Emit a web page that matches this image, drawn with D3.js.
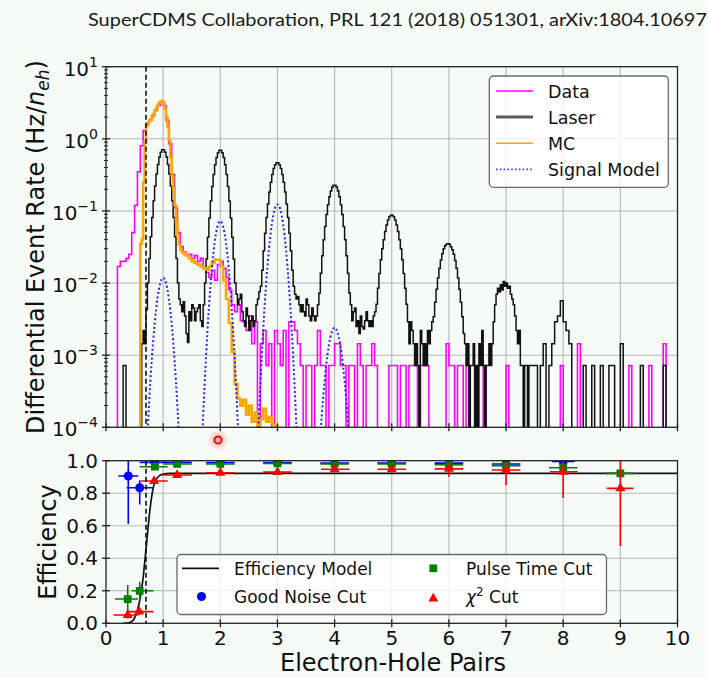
<!DOCTYPE html>
<html>
<head>
<meta charset="utf-8">
<script src="https://cdn.jsdelivr.net/npm/d3@7"></script>
<style>
  body { margin: 0; background: #f6fbf8; }
  svg { display: block; }
  text { font-family: "DejaVu Sans", sans-serif; fill: #111; }
</style>
</head>
<body>
<svg id="chart" width="708" height="678"></svg>
<script>
// ---------- data ----------
// Each histogram is a list of runs of equal-width bins: first edge, bin width, rates (Hz / n_eh).

// Laser calibration spectrum
const laserLow = [0,0,0,0,0,0,7.2e-4,0,0,0,0,0];            // 0.00 - 0.60, 0.05 bins
const laserPeaks = [                                          // 0.60 - 7.40, 0.025 bins
  0,1.44e-3,2.2e-3,1.44e-3,
  0.0043,0.0101,0.0219,0.0437,0.081,0.139,0.221,0.325,0.442,0.558,0.651,0.703,
  0.703,0.651,0.558,0.442,0.325,0.221,0.139,0.081,0.0437,0.0219,0.0101,6e-3,
  5e-3,4e-3,5.5e-3,3.5e-3,2e-3,1.5e-3,4e-3,3e-3,5e-3,4.5e-3,3e-3,4e-3,4.5e-3,5e-3,3e-3,2.5e-3,
  5e-3,0.01,0.0215,0.043,0.08,0.137,0.218,0.32,0.436,0.55,0.642,0.693,
  0.693,0.642,0.55,0.436,0.32,0.218,0.137,0.08,0.043,0.0215,0.01,7e-3,
  5e-3,6e-3,7e-3,4e-3,3e-3,2.5e-3,4.5e-3,3.5e-3,2.2e-3,3e-3,3.5e-3,2.5e-3,3e-3,5e-3,6e-3,7.6e-3,
  9e-3,0.015,0.028,0.049,0.081,0.125,0.183,0.25,0.32,0.387,0.438,0.466,
  0.466,0.438,0.387,0.32,0.25,0.183,0.125,0.081,0.049,0.028,0.015,9e-3,
  7e-3,6e-3,6.5e-3,5e-3,4e-3,5e-3,4e-3,3.5e-3,6e-3,5e-3,3.5e-3,3e-3,4.5e-3,3.5e-3,3e-3,3.5e-3,
  5e-3,7.3e-3,0.0137,0.024,0.04,0.061,0.089,0.122,0.157,0.189,0.214,0.228,
  0.228,0.214,0.189,0.157,0.122,0.089,0.061,0.04,0.024,0.0137,7.3e-3,5e-3,
  3e-3,4e-3,4.5e-3,2.5e-3,3e-3,2e-3,3.5e-3,2.5e-3,2.3e-3,3e-3,4e-3,3e-3,2.5e-3,3e-3,2.5e-3,3.5e-3,
  4e-3,5.1e-3,8.5e-3,0.0136,0.021,0.03,0.04,0.052,0.064,0.075,0.083,0.0874,
  0.0874,0.083,0.075,0.064,0.052,0.04,0.03,0.021,0.0136,8.5e-3,5.1e-3,2.9e-3,
  1.44e-3,2.9e-3,2.2e-3,1.44e-3,7.2e-4,1.44e-3,7.2e-4,0,2.2e-3,1.44e-3,7.2e-4,1.44e-3,7.2e-4,2.2e-3,1.44e-3,2.2e-3,
  2.9e-3,3.4e-3,5.4e-3,8.2e-3,0.0118,0.016,0.0208,0.0255,0.0298,0.033,0.0348,0.035,
  0.0345,0.032,0.029,0.025,0.0205,0.016,0.0118,8.2e-3,5.4e-3,3.4e-3,2e-3,1.44e-3,
  7.2e-4,1.44e-3,0,7.2e-4,7.2e-4,1.44e-3,0,7.2e-4,0,1.44e-3,7.2e-4,2.2e-3,7.2e-4,0,7.2e-4,7.2e-4,1.44e-3,7.2e-4,
  1.44e-3,2.9e-3,5e-3,7e-3,8.5e-3,7.5e-3,9.5e-3,8e-3,0.0105,9e-3,0.01,8.5e-3,9e-3,
  7e-3,6e-3,5e-3,3.5e-3,2.2e-3,1.44e-3,2.2e-3,7.2e-4,7.2e-4,0,7.2e-4,7.2e-4,0
];
const laserHigh = [                                           // 7.40 - 10.0, 0.05 bins
  7.2e-4,7.2e-4,7.2e-4,0,7.2e-4,1.44e-3,0,7.2e-4,1.44e-3,2.9e-3,
  3.5e-3,5.7e-3,2.9e-3,2.2e-3,1.44e-3,0,0,0,0,7.2e-4,
  0,0,7.2e-4,0,0,7.2e-4,0,0,7.2e-4,7.2e-4,
  0,0,1.44e-3,0,0,0,0,0,0,7.2e-4,
  0,0,0,0,0,0,0,7.2e-4,0,0,
  0,0
];

// Measured event rate, 0.05 bins from 0
const dataRate = [
  0,0,0,0,0.017,0.02,0.02,0.022,0.025,0.05,
  0.12,0.35,0.8,1.3,1.6,1.8,2.1,2.5,2.9,3.3,
  2.9,1.8,0.85,0.32,0.11,0.05,0.032,0.027,0.024,0.025,
  0.022,0.024,0.02,0.022,0.016,0.014,0.012,0.015,0.011,0.018,
  0.02,0.016,0.012,8e-3,5e-3,4e-3,5e-3,3e-3,2.9e-3,2.2e-3,
  3.5e-3,1.44e-3,2.9e-3,0,1.44e-3,2.2e-3,7.2e-4,1.44e-3,0,2.2e-3,
  1.44e-3,7.2e-4,2.2e-3,0,2.9e-3,2.9e-3,2.2e-3,1.44e-3,7.2e-4,0,
  7.2e-4,7.2e-4,0,7.2e-4,2.2e-3,7.2e-4,7.2e-4,0,7.2e-4,7.2e-4,
  1.44e-3,1.44e-3,7.2e-4,7.2e-4,0,7.2e-4,7.2e-4,0,1.44e-3,7.2e-4,
  0,7.2e-4,7.2e-4,1.44e-3,7.2e-4,0,0,0,0,7.2e-4,
  7.2e-4,7.2e-4,0,7.2e-4,7.2e-4,0,7.2e-4,7.2e-4,7.2e-4,0,
  7.2e-4,7.2e-4,7.2e-4,0,0,0,0,0,0,1.44e-3,
  7.2e-4,7.2e-4,0,7.2e-4,7.2e-4,0,7.2e-4,0,0,0,
  0,0,7.2e-4,0,0,0,0,0,0,0,
  7.2e-4,0,0,0,0,0,0,0,0,0,
  0,0,0,0,0,0,0,0,0,7.2e-4,
  0,0,0,0,0,1.44e-3,0,0,0,0,
  0,0,0,0,0,0,0,0,0,0,
  0,0,0,7.2e-4,0,0,0,0,0,0,
  7.2e-4,0,0,0,0,1.44e-3,0,0,0,0
];

// Monte Carlo prediction
const mcPeak = [                                              // 0.575 - 1.40, 0.025 bins
  0,0.035,0.04,0.25,0.9,1.5,1.65,1.75,1.85,2.0,2.2,2.45,2.7,2.95,3.15,3.3,3.35,
  3.1,2.6,2.0,1.45,0.95,0.55,0.3,0.2,0.12,0.07,0.045,0.034,0.029,0.027,0.026,0.025
];
const mcTail = [                                              // 1.40 - 3.05, 0.05 bins
  0.024,0.022,0.02,0.019,0.018,0.017,0.016,0.0155,0.017,0.019,
  0.021,0.021,0.017,0.011,0.006,0.0028,1.1e-3,4e-4,2.5e-4,2e-4,
  2.4e-4,1.5e-4,2e-4,1.2e-4,1.6e-4,0,1.3e-4,1.8e-4,1.2e-4,1.4e-4,
  1.1e-4,1.05e-4,0
];

// Signal model curve
const signalX = [
  0.5,
  0.65,0.7,0.75,0.8,0.85,0.9,0.95,1.0,1.05,1.1,1.15,1.2,1.25,1.3,1.35,
  1.5,
  1.65,1.7,1.75,1.8,1.85,1.9,1.95,2.0,2.05,2.1,2.15,2.2,2.25,2.3,2.35,
  2.5,
  2.65,2.7,2.75,2.8,2.85,2.9,2.95,3.0,3.05,3.1,3.15,3.2,3.25,3.3,3.35,
  3.5,
  3.7,3.75,3.8,3.85,3.9,3.95,4.0,4.05,4.1,4.15,4.2,4.25,4.3,
  4.5
];
const signalY = [
  1e-8,
  3.6e-6,3.1e-5,1.9e-4,8.4e-4,2.67e-3,6.1e-3,0.01,0.0118,0.01,6.1e-3,2.67e-3,8.4e-4,1.9e-4,3.1e-5,3.6e-6,
  1e-8,
  1.5e-5,1.42e-4,9.5e-4,4.5e-3,0.0152,0.036,0.0606,0.072,0.0606,0.036,0.0152,4.5e-3,9.5e-4,1.42e-4,1.5e-5,
  1e-8,
  4.6e-5,3.7e-4,2.2e-3,9.3e-3,0.0288,0.0645,0.105,0.123,0.105,0.0645,0.0288,9.3e-3,2.2e-3,3.7e-4,4.6e-5,
  1e-8,
  1.6e-5,7.5e-5,2.6e-4,6.9e-4,1.38e-3,2.09e-3,2.4e-3,2.09e-3,1.38e-3,6.9e-4,2.6e-4,7.5e-5,1.6e-5,
  1e-8
];

// Analysis threshold (electron-hole pairs)
const threshold = 0.7;

// Efficiency model
const effModelX = [0.3,0.33,0.4,0.48,0.52,0.565,0.6,0.62,0.65,0.67,0.71,0.755,0.8,0.855,0.9,0.94,1.0,1.12,1.5,3,10];
const effModelY = [0,0,0.003,0.02,0.05,0.1,0.16,0.205,0.28,0.35,0.49,0.655,0.78,0.87,0.895,0.91,0.917,0.922,0.922,0.922,0.922];

// Cut efficiencies: centre, bin range, value, uncertainty range
const noiseCut = [
  {x:0.39, x0:0.215, x1:0.565, y:0.906, y0:0.61, y1:1.0},
  {x:0.59, x0:0.36, x1:0.83, y:0.834, y0:0.73, y1:0.88},
  {x:0.855, x0:0.59, x1:1.08, y:0.99, y0:0.98, y1:1.0},
  {x:1.245, x0:1.0, x1:1.5, y:0.99, y0:0.98, y1:1.0},
  {x:2, x0:1.75, x1:2.25, y:0.988, y0:0.98, y1:0.995},
  {x:3, x0:2.75, x1:3.25, y:0.988, y0:0.98, y1:0.995},
  {x:4, x0:3.75, x1:4.25, y:0.985, y0:0.975, y1:0.995},
  {x:5, x0:4.75, x1:5.25, y:0.985, y0:0.975, y1:0.995},
  {x:6, x0:5.75, x1:6.25, y:0.985, y0:0.97, y1:0.995},
  {x:7, x0:6.75, x1:7.25, y:0.98, y0:0.965, y1:0.995},
  {x:8, x0:7.8, x1:8.2, y:0.995, y0:0.985, y1:1.0}
];
const pulseTimeCut = [
  {x:0.38, x0:0.16, x1:0.56, y:0.149, y0:0.06, y1:0.235},
  {x:0.59, x0:0.45, x1:0.83, y:0.2, y0:0.143, y1:0.256},
  {x:0.855, x0:0.59, x1:1.08, y:0.963, y0:0.95, y1:0.975},
  {x:1.245, x0:1.0, x1:1.5, y:0.98, y0:0.97, y1:0.99},
  {x:2, x0:1.75, x1:2.25, y:0.98, y0:0.972, y1:0.988},
  {x:3, x0:2.75, x1:3.25, y:0.983, y0:0.975, y1:0.99},
  {x:4, x0:3.75, x1:4.25, y:0.98, y0:0.97, y1:0.99},
  {x:5, x0:4.75, x1:5.25, y:0.98, y0:0.97, y1:0.99},
  {x:6, x0:5.75, x1:6.25, y:0.975, y0:0.96, y1:0.99},
  {x:7, x0:6.75, x1:7.25, y:0.97, y0:0.95, y1:0.99},
  {x:8, x0:7.75, x1:8.25, y:0.957, y0:0.93, y1:0.98},
  {x:9, x0:8.75, x1:9.25, y:0.922, y0:0.9, y1:0.94}
];
const chi2Cut = [
  {x:0.38, x0:0.13, x1:0.56, y:0.051, y0:0.03, y1:0.075},
  {x:0.58, x0:0.36, x1:0.83, y:0.072, y0:0.05, y1:0.1},
  {x:0.84, x0:0.61, x1:1.08, y:0.875, y0:0.86, y1:0.89},
  {x:1.245, x0:1.0, x1:1.5, y:0.912, y0:0.9, y1:0.925},
  {x:2, x0:1.75, x1:2.25, y:0.926, y0:0.915, y1:0.937},
  {x:3, x0:2.75, x1:3.25, y:0.93, y0:0.92, y1:0.94},
  {x:4, x0:3.76, x1:4.26, y:0.947, y0:0.935, y1:0.96},
  {x:5, x0:4.75, x1:5.25, y:0.947, y0:0.935, y1:0.96},
  {x:6, x0:5.75, x1:6.25, y:0.95, y0:0.902, y1:0.984},
  {x:7, x0:6.75, x1:7.25, y:0.943, y0:0.85, y1:0.994},
  {x:8, x0:7.77, x1:8.25, y:0.932, y0:0.77, y1:0.994},
  {x:9, x0:8.76, x1:9.23, y:0.83, y0:0.475, y1:1.0}
];

// Axis ticks
const xTicks = [0,1,2,3,4,5,6,7,8,9,10];
const rateTicks = [1e-4,1e-3,1e-2,1e-1,1,10];
const rateExponents = ["\u22124","\u22123","\u22122","\u22121","0","1"];
const effTicks = [0,0.2,0.4,0.6,0.8,1.0];

// ---------- layout ----------
const svg = d3.select("#chart");
const left = 106, right = 677.5;
const topY0 = 66.7, topY1 = 427.3;
const botY0 = 460.7, botY1 = 623.3;
const floorRate = 1e-6;

const x = d3.scaleLinear().domain([0, 10]).range([left, right]);
const yRate = d3.scaleLog().domain([1e-4, 10]).range([topY1, topY0]);
const yEff = d3.scaleLinear().domain([0, 1]).range([botY1, botY0]);

const defs = svg.append("defs");
defs.append("clipPath").attr("id", "clipTop").append("rect")
  .attr("x", left).attr("y", topY0).attr("width", right - left).attr("height", topY1 - topY0);
defs.append("clipPath").attr("id", "clipBot").append("rect")
  .attr("x", left).attr("y", botY0).attr("width", right - left).attr("height", botY1 - botY0);
const glow = defs.append("radialGradient").attr("id", "glow");
glow.append("stop").attr("offset", "0%").attr("stop-color", "#ff6060").attr("stop-opacity", 0.55);
glow.append("stop").attr("offset", "100%").attr("stop-color", "#ff6060").attr("stop-opacity", 0);

svg.append("rect").attr("width", 708).attr("height", 678).attr("fill", "#f6fbf8");

// title
svg.append("text").attr("x", 88).attr("y", 26)
  .attr("textLength", 619).attr("lengthAdjust", "spacingAndGlyphs")
  .style("font-family", "Lato, 'Open Sans', sans-serif").style("font-size", "18px").style("fill", "#1a1a1a")
  .text("SuperCDMS Collaboration, PRL 121 (2018) 051301, arXiv:1804.10697");

const gridColor = "#b6b6b6";

// ---------- top panel ----------
const gTop = svg.append("g");
gTop.append("g").selectAll("line").data(xTicks.slice(1, -1)).join("line")
  .attr("x1", d => x(d)).attr("x2", d => x(d)).attr("y1", topY0).attr("y2", topY1)
  .attr("stroke", gridColor).attr("stroke-width", 1.1);
gTop.append("g").selectAll("line").data(rateTicks.slice(1, -1)).join("line")
  .attr("x1", left).attr("x2", right).attr("y1", d => yRate(d)).attr("y2", d => yRate(d))
  .attr("stroke", gridColor).attr("stroke-width", 1.1);

const plotTop = gTop.append("g").attr("clip-path", "url(#clipTop)");

// Build step outline from runs [{start, width, values}]
function stepPoints(runs) {
  const pts = [];
  runs.forEach(r => r.values.forEach((v, i) => pts.push([r.start + i * r.width, v > 0 ? v : floorRate])));
  const last = runs[runs.length - 1];
  pts.push([last.start + last.values.length * last.width, pts[pts.length - 1][1]]);
  return pts;
}
const stepLine = d3.line().x(d => x(d[0])).y(d => yRate(d[1])).curve(d3.curveStepAfter);

plotTop.append("path").attr("d", stepLine(stepPoints([{start: 0, width: 0.05, values: dataRate}])))
  .attr("fill", "none").attr("stroke", "#ff00ff").attr("stroke-width", 1.6);
plotTop.append("path").attr("d", stepLine(stepPoints([
    {start: 0, width: 0.05, values: laserLow},
    {start: 0.6, width: 0.025, values: laserPeaks},
    {start: 7.4, width: 0.05, values: laserHigh}])))
  .attr("fill", "none").attr("stroke", "#111").attr("stroke-width", 1.5);
plotTop.append("path").attr("d", stepLine(stepPoints([
    {start: 0.575, width: 0.025, values: mcPeak},
    {start: 1.4, width: 0.05, values: mcTail}])))
  .attr("fill", "none").attr("stroke", "#ffa500").attr("stroke-width", 2.6);

const signalLine = d3.line().x(d => x(d[0])).y(d => yRate(d[1])).curve(d3.curveMonotoneX);
plotTop.append("path").attr("d", signalLine(signalX.map((v, i) => [v, signalY[i]])))
  .attr("fill", "none").attr("stroke", "#2626ee").attr("stroke-width", 2)
  .attr("stroke-dasharray", "2,2.4");

gTop.append("line").attr("x1", x(threshold)).attr("x2", x(threshold))
  .attr("y1", topY0).attr("y2", topY1)
  .attr("stroke", "#111").attr("stroke-width", 1.6).attr("stroke-dasharray", "5,3");

// frame
gTop.append("rect").attr("x", left).attr("y", topY0).attr("width", right - left).attr("height", topY1 - topY0)
  .attr("fill", "none").attr("stroke", "#222").attr("stroke-width", 1.3);

// ticks
const minorRate = [];
for (let e = -4; e < 1; e++) for (let m = 2; m <= 9; m++) minorRate.push(m * Math.pow(10, e));
gTop.append("g").selectAll("line").data(minorRate).join("line")
  .attr("x1", left - 2).attr("x2", left + 2).attr("y1", d => yRate(d)).attr("y2", d => yRate(d))
  .attr("stroke", "#222").attr("stroke-width", 1);
gTop.append("g").selectAll("line").data(rateTicks).join("line")
  .attr("x1", left - 4).attr("x2", left + 4).attr("y1", d => yRate(d)).attr("y2", d => yRate(d))
  .attr("stroke", "#222").attr("stroke-width", 1.3);
gTop.append("g").selectAll("line").data(xTicks).join("line")
  .attr("x1", d => x(d)).attr("x2", d => x(d)).attr("y1", topY1 - 4).attr("y2", topY1 + 4)
  .attr("stroke", "#222").attr("stroke-width", 1.3);

const rateLabels = gTop.append("g").selectAll("text").data(rateTicks).join("text")
  .attr("x", 98).attr("y", d => yRate(d) + 9).attr("text-anchor", "end")
  .style("font-size", "20px");
rateLabels.append("tspan").text("10");
rateLabels.append("tspan").attr("dy", -9).style("font-size", "14px").text((d, i) => rateExponents[i]);

// y label
const yl = svg.append("text")
  .attr("transform", `translate(44,${(topY0 + topY1) / 2}) rotate(-90)`)
  .attr("text-anchor", "middle").style("font-size", "24px");
yl.append("tspan").text("Differential Event Rate (Hz/");
yl.append("tspan").style("font-style", "italic").text("n");
yl.append("tspan").attr("dy", 5).style("font-size", "17px").style("font-style", "italic").text("eh");
yl.append("tspan").attr("dy", -5).text(")");

// legend (top)
const legendTop = [
  {label: "Data", color: "#ff00ff", width: 1.6, dash: null},
  {label: "Laser", color: "#5c5c5c", width: 3, dash: null},
  {label: "MC", color: "#ffa500", width: 1.6, dash: null},
  {label: "Signal Model", color: "#3a3aff", width: 1.8, dash: "1.6,2.2"}
];
const lgT = svg.append("g");
lgT.append("rect").attr("x", 489.3).attr("y", 76).attr("width", 179).attr("height", 111.3).attr("rx", 4)
  .attr("fill", "#ffffff").attr("fill-opacity", 0.82).attr("stroke", "#6a6a6a").attr("stroke-width", 1.3);
const lgTRows = lgT.selectAll("g").data(legendTop).join("g")
  .attr("transform", (d, i) => `translate(0,${91 + i * 26.1})`);
lgTRows.append("line").attr("x1", 496).attr("x2", 533).attr("y1", 0).attr("y2", 0)
  .attr("stroke", d => d.color).attr("stroke-width", d => d.width)
  .attr("stroke-dasharray", d => d.dash);
lgTRows.append("text").attr("x", 548).attr("y", 6.5).style("font-size", "17.5px").text(d => d.label);

// ---------- bottom panel ----------
const gBot = svg.append("g");
gBot.append("g").selectAll("line").data(xTicks.slice(1, -1)).join("line")
  .attr("x1", d => x(d)).attr("x2", d => x(d)).attr("y1", botY0).attr("y2", botY1)
  .attr("stroke", gridColor).attr("stroke-width", 1.1);
gBot.append("g").selectAll("line").data(effTicks.slice(1, -1)).join("line")
  .attr("x1", left).attr("x2", right).attr("y1", d => yEff(d)).attr("y2", d => yEff(d))
  .attr("stroke", gridColor).attr("stroke-width", 1.1);

const plotBot = gBot.append("g").attr("clip-path", "url(#clipBot)");
const effLine = d3.line().x(d => x(d[0])).y(d => yEff(d[1])).curve(d3.curveMonotoneX);
plotBot.append("path").attr("d", effLine(effModelX.map((v, i) => [v, effModelY[i]])))
  .attr("fill", "none").attr("stroke", "#111").attr("stroke-width", 1.7);

function drawCut(data, color, shape) {
  const g = plotBot.append("g");
  g.selectAll("line.h").data(data).join("line").attr("class", "h")
    .attr("x1", d => x(d.x0)).attr("x2", d => x(d.x1)).attr("y1", d => yEff(d.y)).attr("y2", d => yEff(d.y))
    .attr("stroke", color).attr("stroke-width", 1.6);
  g.selectAll("line.v").data(data).join("line").attr("class", "v")
    .attr("x1", d => x(d.x)).attr("x2", d => x(d.x)).attr("y1", d => yEff(d.y0)).attr("y2", d => yEff(d.y1))
    .attr("stroke", color).attr("stroke-width", 1.6);
  g.selectAll("path").data(data).join("path")
    .attr("transform", d => `translate(${x(d.x)},${yEff(d.y)})`)
    .attr("d", d3.symbol(shape.type, shape.size)).attr("fill", color);
}
drawCut(noiseCut, "#0000ff", {type: d3.symbolCircle, size: 64});
drawCut(pulseTimeCut, "#007f00", {type: d3.symbolSquare, size: 60});
drawCut(chi2Cut, "#ff0000", {type: d3.symbolTriangle, size: 44});

gBot.append("line").attr("x1", x(threshold)).attr("x2", x(threshold))
  .attr("y1", botY0).attr("y2", botY1)
  .attr("stroke", "#111").attr("stroke-width", 1.6).attr("stroke-dasharray", "5,3");

gBot.append("rect").attr("x", left).attr("y", botY0).attr("width", right - left).attr("height", botY1 - botY0)
  .attr("fill", "none").attr("stroke", "#222").attr("stroke-width", 1.3);

gBot.append("g").selectAll("line").data(effTicks).join("line")
  .attr("x1", left - 4).attr("x2", left + 4).attr("y1", d => yEff(d)).attr("y2", d => yEff(d))
  .attr("stroke", "#222").attr("stroke-width", 1.3);
gBot.append("g").selectAll("line").data(xTicks).join("line")
  .attr("x1", d => x(d)).attr("x2", d => x(d)).attr("y1", botY1 - 4).attr("y2", botY1 + 4)
  .attr("stroke", "#222").attr("stroke-width", 1.3);

gBot.append("g").selectAll("text").data(effTicks).join("text")
  .attr("x", 98).attr("y", d => yEff(d) + 7).attr("text-anchor", "end")
  .style("font-size", "20px").text(d => d3.format(".1f")(d));
gBot.append("g").selectAll("text").data(xTicks).join("text")
  .attr("x", d => x(d)).attr("y", 645).attr("text-anchor", "middle")
  .style("font-size", "20px").text(d => d);

svg.append("text").attr("transform", `translate(56,${(botY0 + botY1) / 2}) rotate(-90)`)
  .attr("text-anchor", "middle").style("font-size", "24px").text("Efficiency");
svg.append("text").attr("x", 393).attr("y", 671).attr("text-anchor", "middle")
  .style("font-size", "24px").text("Electron-Hole Pairs");

// legend (bottom)
const lgB = svg.append("g");
lgB.append("rect").attr("x", 177).attr("y", 554.5).attr("width", 429.5).attr("height", 60).attr("rx", 4)
  .attr("fill", "#ffffff").attr("fill-opacity", 0.82).attr("stroke", "#6a6a6a").attr("stroke-width", 1.3);
lgB.append("line").attr("x1", 182).attr("x2", 219).attr("y1", 568.3).attr("y2", 568.3)
  .attr("stroke", "#111").attr("stroke-width", 1.7);
lgB.append("path").attr("transform", "translate(201.5,596.5)").attr("d", d3.symbol(d3.symbolCircle, 64)).attr("fill", "#0000ff");
lgB.append("path").attr("transform", "translate(433.3,568.3)").attr("d", d3.symbol(d3.symbolSquare, 60)).attr("fill", "#007f00");
lgB.append("path").attr("transform", "translate(433.3,598.5)").attr("d", d3.symbol(d3.symbolTriangle, 44)).attr("fill", "#ff0000");
lgB.append("text").attr("x", 234).attr("y", 574.5).style("font-size", "17px").text("Efficiency Model");
lgB.append("text").attr("x", 234).attr("y", 602.5).style("font-size", "17px").text("Good Noise Cut");
lgB.append("text").attr("x", 466).attr("y", 574.5).style("font-size", "17px").text("Pulse Time Cut");
const chiLabel = lgB.append("text").attr("x", 466).attr("y", 602.5).style("font-size", "17px");
chiLabel.append("tspan").style("font-style", "italic").text("\u03c7");
chiLabel.append("tspan").attr("dy", -7).style("font-size", "12px").text("2");
chiLabel.append("tspan").attr("dy", 7).text(" Cut");

// pointer highlight
svg.append("circle").attr("cx", 218).attr("cy", 440).attr("r", 11).attr("fill", "url(#glow)");
svg.append("circle").attr("cx", 218).attr("cy", 440).attr("r", 3.6)
  .attr("fill", "none").attr("stroke", "#e01010").attr("stroke-width", 2);
</script>
</body>
</html>
